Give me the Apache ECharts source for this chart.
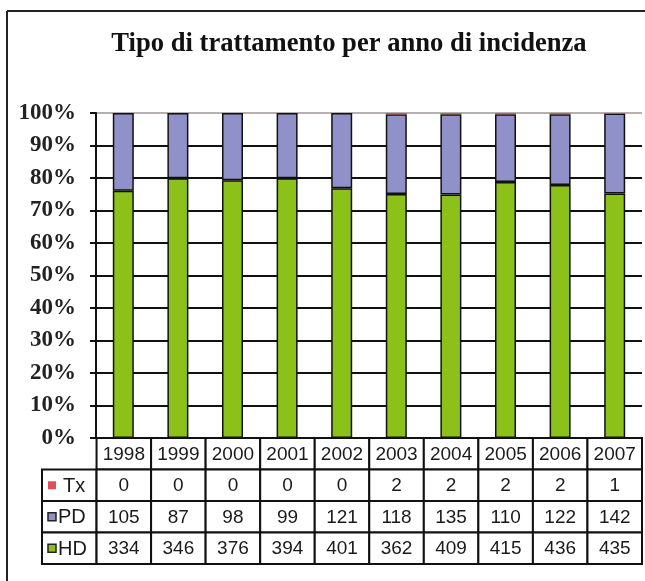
<!DOCTYPE html>
<html>
<head>
<meta charset="utf-8">
<script src="https://cdn.jsdelivr.net/npm/echarts@6/dist/echarts.min.js"></script>
<style>html,body{margin:0;padding:0;background:#fff;overflow:hidden;}#c{width:645px;height:581px;}</style>
</head>
<body>
<div id="c"></div>
<script>
const categories = ['1998','1999','2000','2001','2002','2003','2004','2005','2006','2007'];
const seriesNames = ['Tx','PD','HD'];
const tx = [0,0,0,0,0,2,2,2,2,1];
const pd = [105,87,98,99,121,118,135,110,122,142];
const hd = [334,346,376,394,401,362,409,415,436,435];
const colors = {Tx:'#e0505a', PD:'#9191c9', HD:'#8cc11a'};

const totals = categories.map((_, i) => tx[i] + pd[i] + hd[i]);
const pct = arr => arr.map((v, i) => v / totals[i] * 100);

// table cells: [col, row, text, kind]
const rowsData = {Tx: tx, PD: pd, HD: hd};
const cells = [];
categories.forEach((y, i) => cells.push([i + 1, 0, y, 'v']));
seriesNames.forEach((n, r) => {
  cells.push([0, r + 1, n, 'k']);
  rowsData[n].forEach((v, i) => cells.push([i + 1, r + 1, String(v), 'v']));
});

const chart = echarts.init(document.getElementById('c'));
const splitColors = [];
for (let i = 0; i < 10; i++) splitColors.push('#111');
splitColors.push('#b8b0b0');

chart.setOption({
  animation: false,
  backgroundColor: '#fff',
  title: {
    text: 'Tipo di trattamento per anno di incidenza',
    left: 344, textAlign: 'center', top: 26,
    textStyle: {fontFamily: 'Liberation Serif', fontWeight: 'bold', fontSize: 26.6, color: '#111'}
  },
  graphic: [
    {type: 'line', shape: {x1: 7, y1: 11, x2: 645, y2: 11}, style: {stroke: '#222', lineWidth: 2}, z: 100},
    {type: 'line', shape: {x1: 7, y1: 11, x2: 7, y2: 581}, style: {stroke: '#222', lineWidth: 2}, z: 100}
  ],
  grid: [
    {left: 96, right: 3, top: 113, height: 325},
    {left: 42, right: 3, top: 438, height: 126}
  ],
  xAxis: [
    {type: 'category', gridIndex: 0, data: categories, axisLine: {show: false}, axisTick: {show: false}, axisLabel: {show: false}},
    {type: 'category', gridIndex: 1, data: [''].concat(categories), show: false}
  ],
  yAxis: [
    {type: 'value', gridIndex: 0, min: 0, max: 100, interval: 10,
      axisLine: {show: true, lineStyle: {color: '#111', width: 2}},
      axisTick: {show: true, length: 6, lineStyle: {color: '#111', width: 2}},
      axisLabel: {formatter: '{value}%', margin: 20, fontFamily: 'Liberation Serif', fontWeight: 'bold', fontSize: 23, color: '#222'},
      splitLine: {show: true, lineStyle: {color: splitColors, width: 2}}},
    {type: 'category', gridIndex: 1, data: ['year'].concat(seriesNames), inverse: true, show: false}
  ],
  series: [
    {name: 'HD', type: 'bar', stack: 't', data: pct(hd), barWidth: 21,
      itemStyle: {color: colors.HD, borderColor: '#111', borderWidth: 1.5}},
    {name: 'PD', type: 'bar', stack: 't', data: pct(pd), barWidth: 21,
      itemStyle: {color: colors.PD, borderColor: '#111', borderWidth: 1.5}},
    {name: 'Tx', type: 'bar', stack: 't', data: pct(tx), barWidth: 21,
      itemStyle: {color: colors.Tx, borderWidth: 0}},
    {type: 'custom', xAxisIndex: 1, yAxisIndex: 1, data: cells, z: 5,
      renderItem: function (params, api) {
        const d = cells[params.dataIndex];
        const p = api.coord([d[0], d[1]]);
        const s = api.size([1, 1]);
        const x0 = p[0] - s[0] / 2, y0 = p[1] - s[1] / 2;
        const children = [{type: 'rect', shape: {x: x0, y: y0, width: s[0], height: s[1]},
          style: {fill: '#fff', stroke: '#111', lineWidth: 2}}];
        if (d[3] === 'k') {
          const isTx = d[2] === 'Tx';
          children.push({type: 'rect', shape: {x: x0 + 6, y: p[1] - 4, width: 8, height: 8},
            style: {fill: colors[d[2]], stroke: isTx ? null : '#222', lineWidth: isTx ? 0 : 1.5}});
          children.push({type: 'text', x: x0 + (isTx ? 21 : 16), y: p[1] + 1,
            style: {text: d[2], fontFamily: 'Liberation Sans', fontSize: 20, fill: '#1a1a1a', align: 'left', verticalAlign: 'middle'}});
        } else {
          children.push({type: 'text', x: p[0], y: p[1] + 1,
            style: {text: d[2], fontFamily: 'Liberation Sans', fontSize: 19, fill: '#1a1a1a', align: 'center', verticalAlign: 'middle'}});
        }
        return {type: 'group', children: children};
      }}
  ]
});
</script>
</body>
</html>
